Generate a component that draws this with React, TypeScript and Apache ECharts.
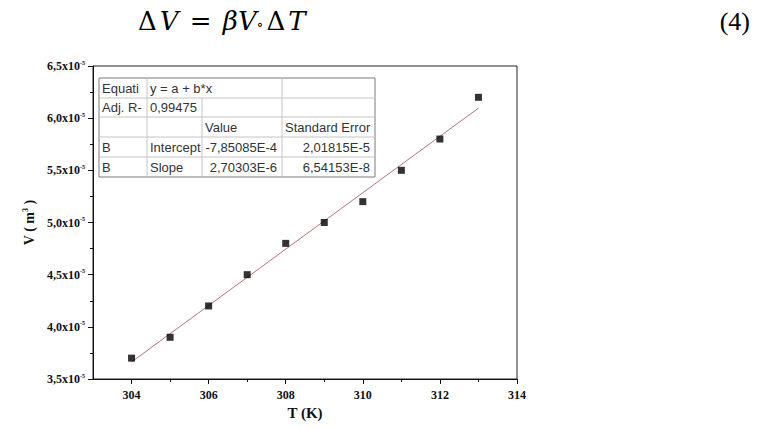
import React, { useEffect, useRef } from "react";
import * as echarts from "echarts";

// Data (V in units of 1e-5 m^3)
const temperatures = [304, 305, 306, 307, 308, 309, 310, 311, 312, 313];
const volumes = [3.7, 3.9, 4.2, 4.5, 4.8, 5.0, 5.2, 5.5, 5.8, 6.2];
// Linear fit parameters from the table
const intercept = -7.85085e-4;
const slope = 2.70303e-6;
const fitRange = [304, 313];
const xMajorTicks = [304, 306, 308, 310, 312, 314];
const xMinorTicks = [305, 307, 309, 311, 313];

const tableRows = [
  ["Equati", "y = a + b*x", "", ""],
  ["Adj. R-", "0,99475", "", ""],
  ["", "", "Value", "Standard Error"],
  ["B", "Intercept", "-7,85085E-4", "2,01815E-5"],
  ["B", "Slope", "2,70303E-6", "6,54153E-8"],
];

const colX = [99, 147, 202, 282, 375];
const rowY = [78, 98, 117, 137, 157, 177];

function buildTable(): any[] {
  const els: any[] = [];
  const x0 = colX[0], x1 = colX[colX.length - 1];
  const y0 = rowY[0], y1 = rowY[rowY.length - 1];
  els.push({
    type: "rect",
    shape: { x: x0, y: y0, width: x1 - x0, height: y1 - y0 },
    style: { fill: "#fff", stroke: "#7a7a7a", lineWidth: 1 },
    z: 10,
  });
  for (let r = 1; r < rowY.length - 1; r++) {
    els.push({
      type: "line",
      shape: { x1: x0, y1: rowY[r], x2: x1, y2: rowY[r] },
      style: { stroke: "#c4c4c4", lineWidth: 1 },
      z: 11,
    });
  }
  for (let c = 1; c < colX.length - 1; c++) {
    for (let r = 0; r < rowY.length - 1; r++) {
      if (r === 0 && c === 2) continue; // merged cell in first row
      els.push({
        type: "line",
        shape: { x1: colX[c], y1: rowY[r], x2: colX[c], y2: rowY[r + 1] },
        style: { stroke: "#c4c4c4", lineWidth: 1 },
        z: 11,
      });
    }
  }
  tableRows.forEach((row, r) => {
    row.forEach((txt, c) => {
      if (!txt) return;
      const rightAlign = r >= 3 && c >= 2;
      els.push({
        type: "text",
        x: rightAlign ? colX[c + 1] - 5 : colX[c] + 3,
        y: (rowY[r] + rowY[r + 1]) / 2,
        style: {
          text: txt,
          fill: "#333",
          font: "13px 'Liberation Sans', Arial, sans-serif",
          align: rightAlign ? "right" : "left",
          verticalAlign: "middle",
        },
        z: 12,
      });
    });
  });
  return els;
}

const serif = "'Liberation Serif', 'Times New Roman', serif";
const mathSerif = "'DejaVu Serif', serif";

export default function App() {
  const ref = useRef<HTMLDivElement>(null);
  useEffect(() => {
    document.body.style.margin = "0";
    const chart = echarts.init(ref.current!, null, { renderer: "svg" });
    const scatterData = temperatures.map((t, i) => [t, volumes[i]]);
    const fitData = fitRange.map((t) => [t, (intercept + slope * t) * 1e5]);
    chart.setOption({
      animation: false,
      backgroundColor: "#fff",
      grid: {
        left: 93,
        right: 244,
        top: 66,
        bottom: 50,
        show: true,
        borderColor: "#222",
        borderWidth: 1,
        backgroundColor: "transparent",
      },
      xAxis: [
        {
          type: "value",
          min: 303,
          max: 314,
          position: "bottom",
          name: "T (K)",
          nameLocation: "middle",
          nameGap: 25,
          nameTextStyle: { fontFamily: serif, fontWeight: "bold", fontSize: 15, color: "#111" },
          axisLine: { show: true, lineStyle: { color: "#111", width: 1 } },
          axisTick: { show: true, length: 5, inside: false, customValues: xMajorTicks, lineStyle: { color: "#111" } },
          axisLabel: {
            customValues: xMajorTicks,
            fontFamily: serif,
            fontWeight: "bold",
            fontSize: 12,
            color: "#111",
            margin: 10,
          },
          splitLine: { show: false },
        },
        {
          type: "value",
          min: 303,
          max: 314,
          position: "bottom",
          axisLine: { show: false },
          axisTick: { show: true, length: 3, customValues: xMinorTicks, lineStyle: { color: "#111" } },
          axisLabel: { show: false },
          splitLine: { show: false },
        },
      ],
      yAxis: {
        type: "value",
        min: 3.5,
        max: 6.5,
        interval: 0.5,
        name: "V ( m{sup|3} )",
        nameLocation: "middle",
        nameRotate: 90,
        nameGap: 47,
        nameTextStyle: {
          fontFamily: serif,
          fontWeight: "bold",
          fontSize: 14,
          color: "#111",
          rich: { sup: { fontSize: 8, fontFamily: serif, fontWeight: "bold", padding: [0, 0, 8, 0] } },
        },
        axisLine: { show: true, lineStyle: { color: "#111", width: 1 } },
        axisTick: { show: true, length: 5, lineStyle: { color: "#111" } },
        minorTick: { show: true, splitNumber: 2, length: 3, lineStyle: { color: "#111" } },
        splitLine: { show: false },
        axisLabel: {
          fontFamily: serif,
          fontWeight: "bold",
          fontSize: 12,
          color: "#111",
          margin: 8,
          formatter: (v: number) => v.toFixed(1).replace(".", ",") + "x10{sup|-5}",
          rich: { sup: { fontSize: 6, fontFamily: serif, fontWeight: "bold", color: "#111", padding: [0, 0, 7, 0] } },
        },
      },
      series: [
        {
          type: "line",
          data: fitData,
          symbol: "none",
          lineStyle: { color: "#b87473", width: 1 },
          z: 2,
          silent: true,
        },
        {
          type: "scatter",
          data: scatterData,
          symbol: "rect",
          symbolSize: 7,
          itemStyle: { color: "#000" },
          z: 3,
        },
      ],
      graphic: [
        {
          type: "text",
          x: 135,
          y: 21,
          style: {
            text: "{u|Δ}V {u|=} βV{s|∘}{u|Δ}T",
            font: "italic 26px " + mathSerif,
            fill: "#000",
            verticalAlign: "middle",
            rich: {
              u: { font: "26px " + mathSerif, fill: "#000", padding: [0, 3, 0, 3] },
              s: { font: "14px " + mathSerif, fill: "#000", padding: [6, 0, 0, 0] },
            },
          },
        },
        {
          type: "text",
          x: 750,
          y: 21,
          style: {
            text: "(4)",
            font: "26px " + serif,
            fill: "#000",
            align: "right",
            verticalAlign: "middle",
          },
        },
        ...buildTable(),
      ],
    });
    return () => chart.dispose();
  }, []);
  return <div ref={ref} style={{ width: 761, height: 429, position: "absolute", left: 0, top: 0 }} />;
}
